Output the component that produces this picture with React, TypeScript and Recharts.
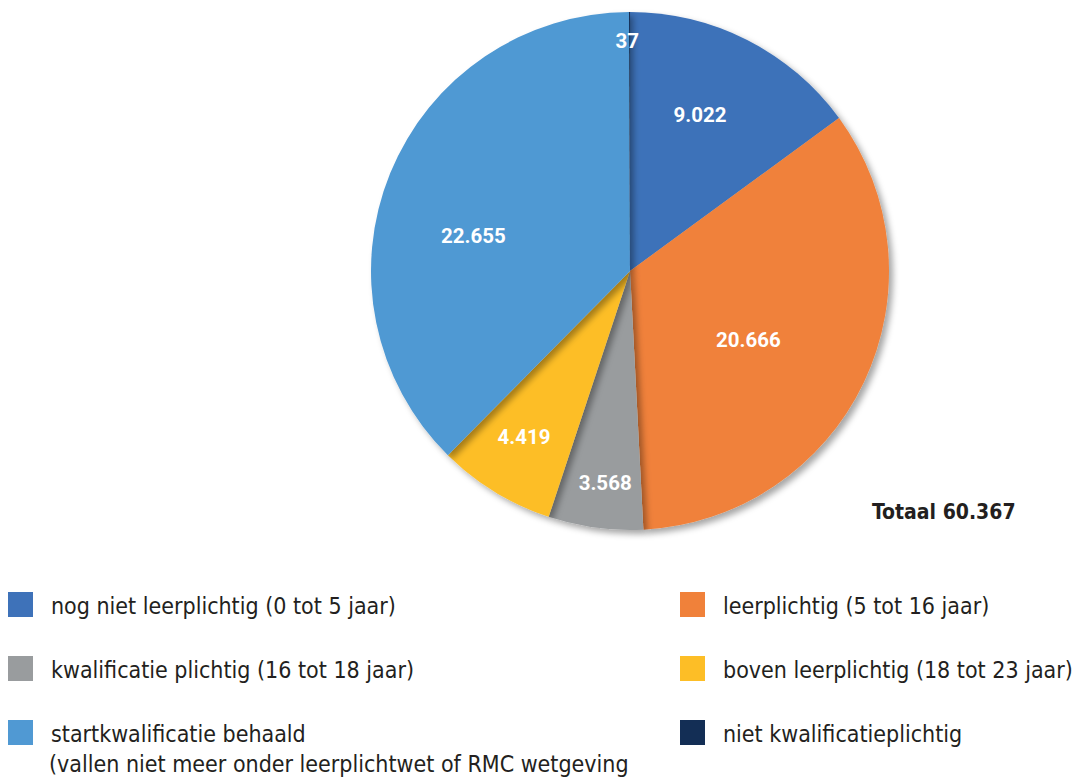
import { PieChart, Pie, Cell } from "recharts";

const categories = [
  "nog niet leerplichtig (0 tot 5 jaar)",
  "leerplichtig (5 tot 16 jaar)",
  "kwalificatie plichtig (16 tot 18 jaar)",
  "boven leerplichtig (18 tot 23 jaar)",
  "startkwalificatie behaald",
  "niet kwalificatieplichtig",
];
const values = [9022, 20666, 3568, 4419, 22655, 37];
const valueLabels = ["9.022", "20.666", "3.568", "4.419", "22.655", "37"];
const colors = ["#3E72B9", "#F0813A", "#999C9E", "#FDBE26", "#5099D3", "#132E55"];
const legendOrder = [0, 2, 4, 1, 3, 5];
const totalLabel = "Totaal 60.367";
const subNote = "(vallen niet meer onder leerplichtwet of RMC wetgeving";

const data = categories.map((name, i) => ({ name, value: values[i], label: valueLabels[i] }));

// label placement per slice: [fraction of radius, angle nudge in degrees]
const labelPlacement: [number, number][] = [
  [0.66, 2.7],
  [0.53, -4.9],
  [0.824, 1],
  [0.76, -1.1],
  [0.62, 9.6],
  [0.89, 0.6],
];

const RAD = Math.PI / 180;
const condensed = '"Liberation Sans Narrow", "DejaVu Sans Condensed", "Roboto Condensed", sans-serif';

function renderLabel(props: any) {
  const { cx, cy, midAngle, outerRadius, index, payload } = props;
  const [frac, nudge] = labelPlacement[index] || [0.6, 0];
  const r = outerRadius * frac;
  const a = midAngle + nudge;
  const x = cx + r * Math.cos(-a * RAD);
  const y = cy + r * Math.sin(-a * RAD);
  return (
    <text
      x={x}
      y={y}
      fill="#fff"
      textAnchor="middle"
      dominantBaseline="central"
      fontFamily="Roboto, sans-serif"
      fontWeight={700}
      fontSize={20.5}
    >
      {payload.label}
    </text>
  );
}

export default function App() {
  return (
    <div style={{ position: "absolute", left: 0, top: 0, width: 1072, height: 780, background: "#fff", overflow: "hidden" }}>
      <PieChart width={1072} height={780} margin={{ top: 0, right: 0, bottom: 0, left: 0 }}>
        <defs>
          <filter id="pieShadow" x="-10%" y="-10%" width="125%" height="125%">
            <feDropShadow dx={4} dy={4} stdDeviation={3} floodColor="#000" floodOpacity={0.35} />
          </filter>
        </defs>
        <Pie
          data={data}
          dataKey="value"
          cx={630}
          cy={271}
          outerRadius={259}
          startAngle={90}
          endAngle={-270}
          stroke="none"
          label={renderLabel}
          labelLine={false}
          isAnimationActive={false}
          style={{ filter: "url(#pieShadow)" }}
        >
          {data.map((d, i) => (
            <Cell key={d.name} fill={colors[i]} />
          ))}
        </Pie>
      </PieChart>

      <div
        style={{
          position: "absolute",
          left: 872,
          top: 500,
          fontFamily: condensed,
          fontWeight: 700,
          fontSize: 21,
          color: "#231F20",
          whiteSpace: "nowrap",
        }}
      >
        {totalLabel}
      </div>

      {legendOrder.map((idx, k) => {
        const col = k < 3 ? 0 : 1;
        const row = k % 3;
        const left = col === 0 ? 8 : 680;
        const top = 592 + row * 64;
        return (
          <div key={idx} style={{ position: "absolute", left, top, fontFamily: condensed, fontSize: 23, color: "#231F20" }}>
            <div style={{ position: "absolute", left: 0, top: 0, width: 25, height: 25, background: colors[idx] }} />
            <div style={{ position: "absolute", left: 43, top: -1, whiteSpace: "nowrap", lineHeight: "30px" }}>
              {categories[idx]}
              {idx === 4 ? <div style={{ marginLeft: -2 }}>{subNote}</div> : null}
            </div>
          </div>
        );
      })}
    </div>
  );
}
